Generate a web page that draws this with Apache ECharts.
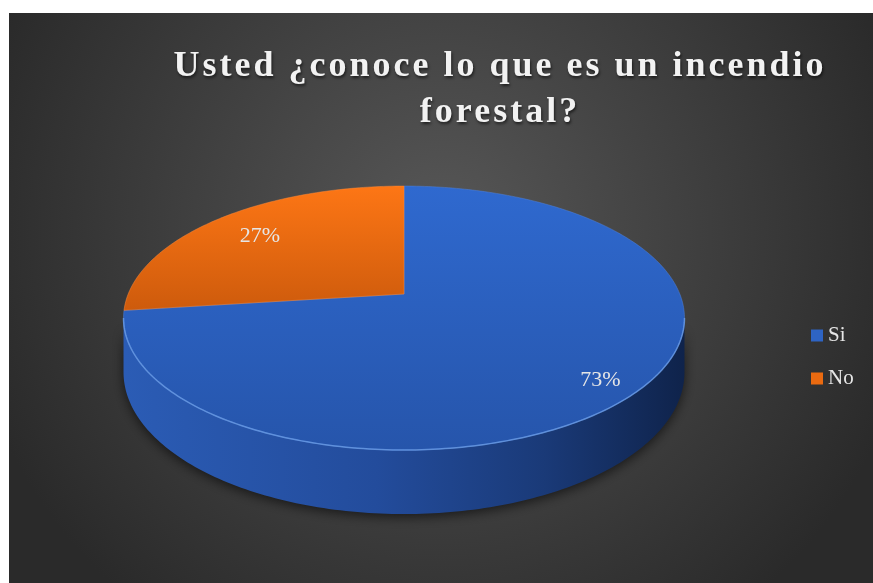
<!DOCTYPE html>
<html><head><meta charset="utf-8">
<script src="https://cdn.jsdelivr.net/npm/echarts@6/dist/echarts.min.js"></script>
<style>html,body{margin:0;padding:0;background:#fff}#c{width:873px;height:583px}</style>
</head><body><div id="c"></div>
<script>
// ---- data ----
const categories = ['Si', 'No'];
const values = [73, 27];
const titleLines = ['Usted ¿conoce lo que es un incendio', 'forestal?'];

// ---- title letter spacing (canvas) ----
(function () {
  const proto = CanvasRenderingContext2D.prototype;
  const orig = proto.fillText;
  proto.fillText = function (t) {
    if (titleLines.indexOf(t) >= 0 && 'letterSpacing' in this) {
      const prev = this.letterSpacing;
      this.letterSpacing = '3px';
      const r = orig.apply(this, arguments);
      this.letterSpacing = prev;
      return r;
    }
    return orig.apply(this, arguments);
  };
})();

// ---- layout / style ----
const PIE = { cx: 404, cy: 294, A: 275.8, B: 127.6, k: 0.182, H: 52.4 };
const labelRadius = [0.86, 0.76];
const labelShift = [[-2, 5], [0, 1]];
const topColors = [['#2f69cf', '#2655ab'], ['#fd7615', '#cc5a0c']];
const legendColors = ['#2e64c4', '#ea6a10'];
const total = values.reduce((a, b) => a + b, 0);

function proj(theta, r, h) {
  const x = r * Math.cos(theta), d = r * Math.sin(theta);
  const w = 1 + PIE.k * d;
  return [PIE.cx + PIE.A * x / w, PIE.cy - PIE.B * d / w + PIE.H * h / w];
}
function arc(t0, t1, r, h) {
  const n = Math.max(2, Math.ceil(Math.abs(t1 - t0) / (Math.PI / 180)));
  const pts = [];
  for (let i = 0; i <= n; i++) pts.push(proj(t0 + (t1 - t0) * i / n, r, h));
  return pts;
}

function renderItem(params, api) {
  const idx = params.seriesIndex;
  let cum = 0;
  for (let i = 0; i < idx; i++) cum += values[i];
  const v = api.value(0);
  const tStart = Math.PI / 2 - 2 * Math.PI * cum / total;
  const tEnd = tStart - 2 * Math.PI * v / total;
  const children = [];
  // side (visible front part)
  const a = Math.asin(PIE.k);
  const vis = [-Math.PI + a, -a];
  [-2 * Math.PI, 0, 2 * Math.PI].forEach(s => {
    const lo = Math.max(tEnd, vis[0] + s), hi = Math.min(tStart, vis[1] + s);
    if (hi > lo) {
      const topArc = arc(lo, hi, 1, 0);
      const botArc = arc(hi, lo, 1, 1);
      children.push({
        type: 'polygon', z2: 1,
        shape: { points: topArc.concat(botArc) },
        style: {
          fill: idx === 0 ? {
            type: 'linear', global: true, x: PIE.cx - 280, y: 0, x2: PIE.cx + 280, y2: 0,
            colorStops: [{ offset: 0, color: '#2b5cb5' }, { offset: 0.45, color: '#234c9c' },
                         { offset: 0.75, color: '#1a3a78' }, { offset: 1, color: '#0f234b' }]
          } : {
            type: 'linear', global: true, x: PIE.cx - 280, y: 0, x2: PIE.cx + 280, y2: 0,
            colorStops: [{ offset: 0, color: '#c85a10' }, { offset: 1, color: '#6e300a' }]
          },
          shadowBlur: 12, shadowColor: 'rgba(0,0,0,0.6)', shadowOffsetY: 3
        }
      });
      children.push({
        type: 'polyline', z2: 3,
        shape: { points: topArc },
        style: { stroke: idx === 0 ? 'rgba(110,160,235,0.75)' : 'rgba(255,170,100,0.7)', lineWidth: 1.5, fill: null }
      });
    }
  });
  // top face
  const topPts = [proj(0, 0, 0)].concat(arc(tStart, tEnd, 1, 0));
  children.push({
    type: 'polygon', z2: 2,
    shape: { points: topPts },
    style: {
      fill: {
        type: 'linear', global: true, x: 0, y: PIE.cy - 108, x2: 0, y2: idx === 0 ? PIE.cy + 156 : PIE.cy + 20,
        colorStops: [{ offset: 0, color: topColors[idx][0] }, { offset: 1, color: topColors[idx][1] }]
      },
      stroke: idx === 0 ? 'rgba(80,130,220,0.6)' : 'rgba(255,140,60,0.6)', lineWidth: 0.8
    }
  });
  // label
  const mid = (tStart + tEnd) / 2;
  const lp = proj(mid, labelRadius[idx], 0);
  children.push({
    type: 'text', z2: 10,
    x: lp[0] + labelShift[idx][0], y: lp[1] + labelShift[idx][1],
    style: {
      text: Math.round(v / total * 100) + '%',
      fill: '#e6e6e6', font: '22px "Liberation Serif", "Times New Roman", serif',
      align: 'center', verticalAlign: 'middle'
    }
  });
  return { type: 'group', children: children };
}

const chart = echarts.init(document.getElementById('c'), null, { renderer: 'canvas' });
chart.setOption({
  backgroundColor: '#ffffff',
  animation: false,
  graphic: [
    {
      type: 'rect', z: -10, silent: true,
      shape: { x: 9, y: 13, width: 864, height: 570 },
      style: {
        fill: {
          type: 'radial', x: 0.5, y: 0.38, r: 0.85,
          colorStops: [{ offset: 0, color: '#575757' }, { offset: 1, color: '#2a2a2a' }]
        }
      }
    },
    {
      type: 'text', z: 10, x: 500, y: 44,
      style: {
        text: titleLines.join('\n'),
        font: 'bold 36px "Liberation Serif", "Times New Roman", serif',
        fill: '#f2f2f2', align: 'center', verticalAlign: 'top', lineHeight: 46,
        textShadowColor: 'rgba(0,0,0,0.6)', textShadowBlur: 3, textShadowOffsetX: 1, textShadowOffsetY: 2
      }
    }
  ],
  legend: {
    data: categories, orient: 'vertical', left: 811, top: 325, padding: 0,
    itemWidth: 12, itemHeight: 12, itemGap: 22, icon: 'rect',
    selectedMode: false,
    textStyle: { color: '#e6e6e6', fontSize: 21, lineHeight: 21, fontFamily: '"Liberation Serif", "Times New Roman", serif' }
  },
  series: categories.map((c, i) => ({
    type: 'custom', name: c, coordinateSystem: 'none',
    color: legendColors[i], itemStyle: { color: legendColors[i] },
    silent: true,
    renderItem: renderItem,
    data: [[values[i]]]
  }))
});
</script></body></html>
